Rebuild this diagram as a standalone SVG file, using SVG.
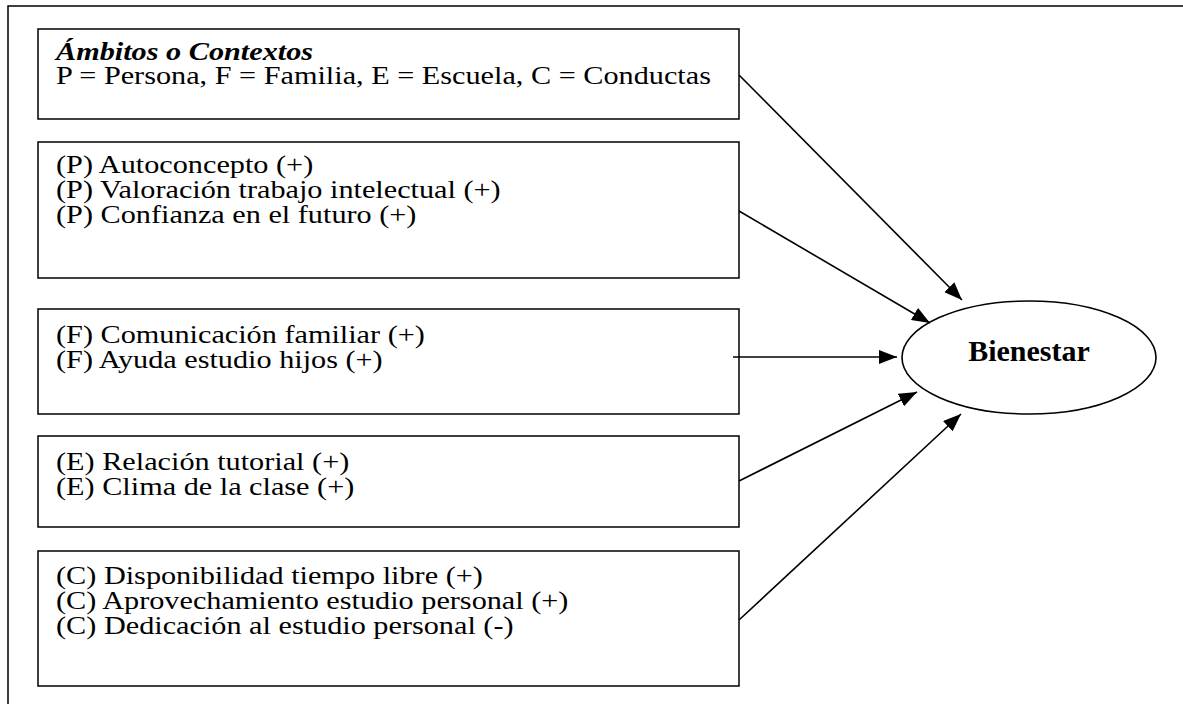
<svg xmlns="http://www.w3.org/2000/svg" width="1183" height="704" viewBox="0 0 1183 704">
<style>
.box{fill:#fff;stroke:#000;stroke-width:1.5}
.t{font-family:"Liberation Serif","Times New Roman",serif;font-size:25px;fill:#000}
.bi{font-weight:bold;font-style:italic}
.c{stroke:#000;stroke-width:1.6;fill:none}
</style>
<defs>
<marker id="ah" viewBox="0 0 18 14" refX="18" refY="7" markerWidth="18" markerHeight="14" markerUnits="userSpaceOnUse" orient="auto">
<path d="M0,0 L18,7 L0,14 Z" fill="#000"/>
</marker>
</defs>
<rect x="0" y="0" width="1183" height="704" fill="#fff"/>
<path d="M8,704 V6 H1183" fill="none" stroke="#000" stroke-width="1.5"/>
<g id="n-ambitos">
<rect class="box" x="38" y="29" width="701" height="90"/>
<g transform="scale(1.21,1)"><text class="t bi" x="46.3" y="60">Ámbitos o Contextos</text>
<text class="t" x="46.3" y="84">P = Persona, F = Familia, E = Escuela, C = Conductas</text></g>
</g>
<g id="n-persona">
<rect class="box" x="38" y="142" width="701" height="136"/>
<g transform="scale(1.21,1)"><text class="t" x="46.3" y="173">(P) Autoconcepto (+)</text>
<text class="t" x="46.3" y="198">(P) Valoración trabajo intelectual (+)</text>
<text class="t" x="46.3" y="223">(P) Confianza en el futuro (+)</text></g>
</g>
<g id="n-familia">
<rect class="box" x="38" y="309" width="701" height="105"/>
<g transform="scale(1.21,1)"><text class="t" x="46.3" y="343">(F) Comunicación familiar (+)</text>
<text class="t" x="46.3" y="368">(F) Ayuda estudio hijos (+)</text></g>
</g>
<g id="n-escuela">
<rect class="box" x="38" y="436" width="701" height="91"/>
<g transform="scale(1.21,1)"><text class="t" x="46.3" y="470">(E) Relación tutorial (+)</text>
<text class="t" x="46.3" y="495">(E) Clima de la clase (+)</text></g>
</g>
<g id="n-conductas">
<rect class="box" x="38" y="551" width="701" height="135"/>
<g transform="scale(1.21,1)"><text class="t" x="46.3" y="584">(C) Disponibilidad tiempo libre (+)</text>
<text class="t" x="46.3" y="609">(C) Aprovechamiento estudio personal (+)</text>
<text class="t" x="46.3" y="634">(C) Dedicación al estudio personal (-)</text></g>
</g>
<g id="n-bienestar">
<ellipse cx="1029" cy="357.5" rx="127" ry="56.5" fill="#fff" stroke="#000" stroke-width="1.6"/>
<text x="1029" y="361" text-anchor="middle" font-family="Liberation Serif, serif" font-size="30" font-weight="bold">Bienestar</text>
</g>
<g id="connectors">
<line class="c" x1="739" y1="75" x2="962" y2="300" marker-end="url(#ah)"/>
<line class="c" x1="739" y1="211" x2="930" y2="323" marker-end="url(#ah)"/>
<line class="c" x1="733" y1="357" x2="897" y2="357" marker-end="url(#ah)"/>
<line class="c" x1="739" y1="481" x2="917" y2="392" marker-end="url(#ah)"/>
<line class="c" x1="739" y1="620" x2="961" y2="414" marker-end="url(#ah)"/>
</g>
</svg>
